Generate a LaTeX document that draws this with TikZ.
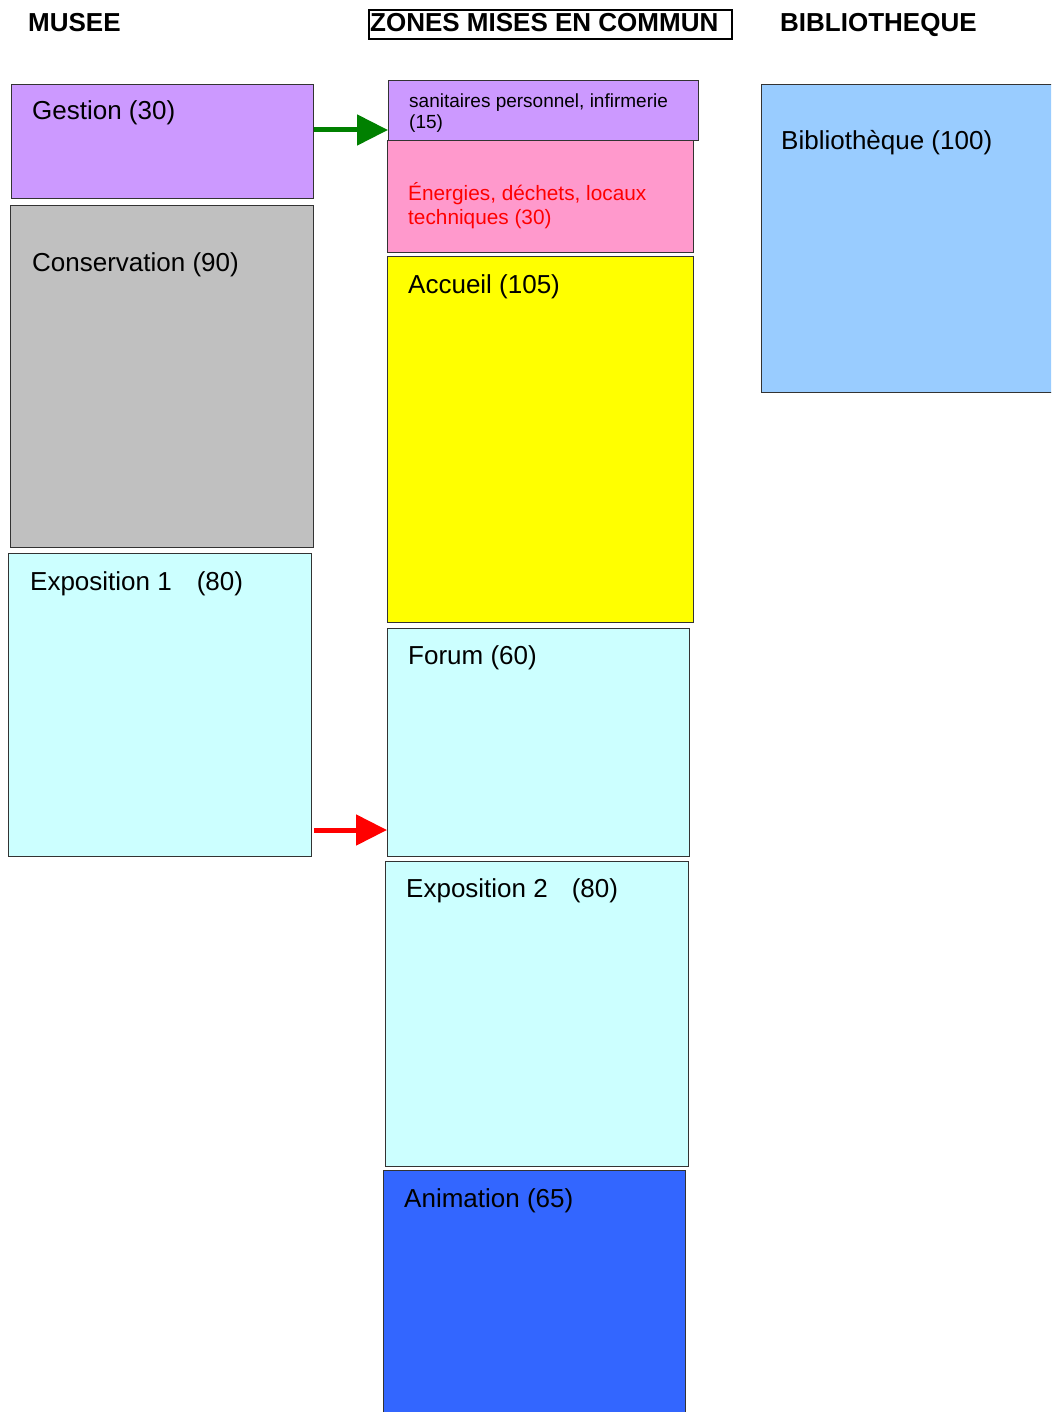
\documentclass[tikz,border=0pt]{standalone}
\usepackage{fontspec}
\setmainfont{Liberation Sans}
\usetikzlibrary{arrows.meta}
\definecolor{lav}{HTML}{CC99FF}
\definecolor{grayc}{HTML}{C0C0C0}
\definecolor{cyanc}{HTML}{CCFFFF}
\definecolor{pinkc}{HTML}{FF99CC}
\definecolor{yel}{HTML}{FFFF00}
\definecolor{bluec}{HTML}{3366FF}
\definecolor{skyc}{HTML}{99CCFF}
\definecolor{arrgreen}{HTML}{008000}
\definecolor{arrred}{HTML}{FF0000}
\definecolor{bord}{HTML}{333333}
\begin{document}
\begin{tikzpicture}[x=1pt,y=-1pt,
 zone/.style n args={3}{draw=bord, line width=1.2pt, fill=#3, anchor=north west, inner sep=0pt, minimum width=#1pt, minimum height=#2pt},
 lbl/.style={anchor=base west, inner sep=0pt, font=\fontsize{26}{30}\selectfont},
 small/.style={anchor=base west, inner sep=0pt, font=\fontsize{19}{22}\selectfont},
 mid/.style={anchor=base west, inner sep=0pt, font=\fontsize{20.8}{24}\selectfont, text=arrred},
 head/.style={anchor=base west, inner sep=0pt, font=\bfseries\fontsize{26}{30}\selectfont},
 link/.style={line width=5pt, -{Triangle[length=31pt,width=30pt]}}]
\path[use as bounding box, fill=white] (0,0) rectangle (1051,1412);
\clip (0,0) rectangle (1051,1412);

% headers
\node[head] (musee) at (28,32) {MUSEE};
\node[head] (zones) at (370,32) {ZONES MISES EN COMMUN};
\node[draw=black, line width=2pt, inner sep=0pt, anchor=north west, minimum width=363pt, minimum height=29pt] (zonesF) at (368,9) {};
\node[head] (bibT) at (780,32) {BIBLIOTHEQUE};

% MUSEE column
\node[zone={302}{114}{lav}] (gestion) at (11,84) {};
\node[zone={303}{342}{grayc}] (conserv) at (10,205) {};
\node[zone={303}{303}{cyanc}] (expo1) at (8,553) {};

% common zones
\node[zone={306}{112}{pinkc}] (energ) at (387,140) {};
\node[zone={310}{60}{lav}] (sanit) at (388,80) {};
\node[zone={306}{366}{yel}] (accueil) at (387,256) {};
\node[zone={302}{228}{cyanc}] (forum) at (387,628) {};
\node[zone={303}{305}{cyanc}] (expo2) at (385,861) {};
\node[zone={302}{260}{bluec}] (anim) at (383,1170) {};

% library
\node[zone={300}{308}{skyc}] (biblio) at (761,84) {};

% labels
\node[lbl] (gestionT) at (32,120) {Gestion (30)};
\node[lbl] (conservT) at (32,272) {Conservation (90)};
\node[lbl] (expo1T) at (30,590) {Exposition 1\hspace{25pt}(80)};
\node[small] (sanitT1) at (409,108) {sanitaires personnel, infirmerie};
\node[small] (sanitT2) at (409,129) {(15)};
\node[mid] (energT1) at (408,201) {Énergies, déchets, locaux};
\node[mid] (energT2) at (408,225) {techniques (30)};
\node[lbl] (accueilT) at (408,294) {Accueil (105)};
\node[lbl] (forumT) at (408,664) {Forum (60)};
\node[lbl] (expo2T) at (406,897) {Exposition 2\hspace{24pt}(80)};
\node[lbl] (animT) at (404,1207) {Animation (65)};
\node[lbl] (biblioT) at (781,150) {Bibliothèque (100)};

% connectors
\draw[link, arrgreen] ([yshift=-46pt]gestion.north east) -- ([yshift=-50pt]sanit.north west);
\draw[link, arrred] ([xshift=2pt,yshift=-277pt]expo1.north east) -- ([yshift=-202pt]forum.north west);
\end{tikzpicture}
\end{document}
